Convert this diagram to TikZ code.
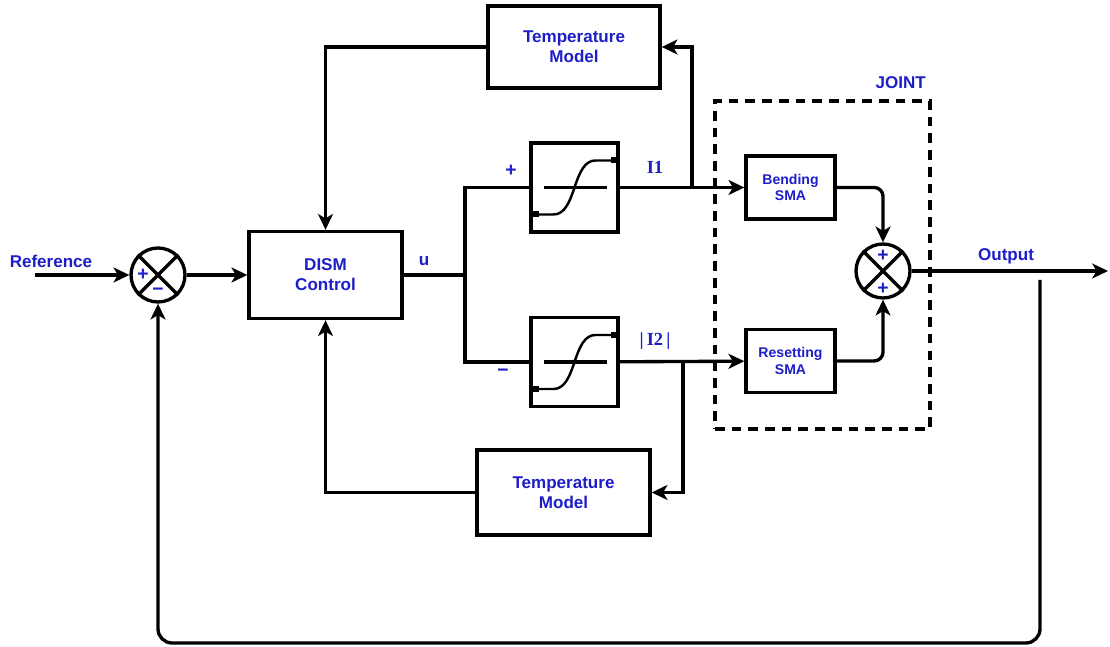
\documentclass[tikz,border=0pt]{standalone}
\usepackage{fontspec}
\setmainfont{Liberation Sans}
\newfontfamily\serifbold{Liberation Serif}
\usetikzlibrary{arrows.meta,positioning,calc}
\definecolor{labelblue}{RGB}{30,30,200}

\begin{document}
\begin{tikzpicture}[
          line width=1.9pt, >={Stealth[length=9pt,width=8.5pt,inset=2.5pt]},
          blk/.style={draw, line width=1.9pt, align=center, text=labelblue, font=\bfseries\fontsize{9.7}{11.5}\selectfont},
          sma/.style={blk, minimum width=1.78cm, minimum height=1.26cm, font=\bfseries\fontsize{8}{9.5}\selectfont},
          sat/.style={draw, line width=1.9pt, minimum width=1.74cm, minimum height=1.78cm},
          sumnode/.style={circle, draw, line width=1.9pt, minimum size=1.08cm, inner sep=0pt},
          lbl/.style={text=labelblue, font=\bfseries\fontsize{9.7}{11}\selectfont, inner sep=1pt},
          ilbl/.style={text=labelblue, font=\serifbold\bfseries\fontsize{10.5}{11}\selectfont, inner sep=1pt},
          sgn/.style={text=labelblue, font=\bfseries\fontsize{11}{11}\selectfont, inner sep=0pt}]
        \useasboundingbox (0,0) rectangle (22.2,12.94);
        % blocks
        \node[sumnode] (sum1) at (3.16,7.44) {};
        \node[blk, minimum width=3.06cm, minimum height=1.74cm] (dism) at (6.51,7.44) {DISM\\Control};
        \node[sat] (sat1) at (11.49,9.19) {};
        \node[sat] (sat2) at (11.49,5.70) {};
        \node[blk, minimum width=3.44cm, minimum height=1.64cm] (temp1) at (11.48,12.0) {Temperature\\Model};
        \node[blk, minimum width=3.46cm, minimum height=1.70cm] (temp2) at (11.27,3.09) {Temperature\\Model};
        \node[sma] (bend) at (15.81,9.19) {Bending\\SMA};
        \node[sma] (reset) at (15.81,5.72) {Resetting\\SMA};
        \node[sumnode] (sum2) at (17.66,7.52) {};
        \node[draw, dash pattern=on 5.5pt off 4pt, minimum width=4.3cm, minimum height=6.56cm] (joint) at (16.45,7.64) {};
        % summing junction crosses and signs
        \foreach \s in {sum1,sum2} {
          \draw (\s.north west) -- (\s.south east);
          \draw (\s.north east) -- (\s.south west);
        }
        \node[sgn] (p1) at ([xshift=-0.3cm]sum1.center) {+};
        \node[sgn] (m1) at ([yshift=-0.34cm]sum1.center) {−};
        \node[sgn] (p2) at ([yshift=0.3cm]sum2.center) {+};
        \node[sgn] (p3) at ([yshift=-0.36cm]sum2.center) {+};
        % saturation curves
        \foreach \s in {sat1,sat2} {
          \draw ($(\s.center)+(-0.62,0)$) -- ($(\s.center)+(0.64,0)$);
          \draw[line width=1.4pt] ($(\s.center)+(-0.8,-0.54)$) -- ($(\s.center)+(-0.42,-0.54)$)
            .. controls ($(\s.center)+(-0.2,-0.54)$) and ($(\s.center)+(-0.1,-0.3)$) .. (\s.center)
            .. controls ($(\s.center)+(0.1,0.3)$) and ($(\s.center)+(0.2,0.54)$) .. ($(\s.center)+(0.42,0.54)$)
            -- ($(\s.center)+(0.8,0.54)$);
          \fill ($(\s.center)+(-0.86,-0.6)$) rectangle ++(0.14,0.12);
          \fill ($(\s.center)+(0.72,0.48)$) rectangle ++(0.14,0.12);
        }
        % coordinates
        \coordinate (refin) at (0.7,7.44);
        \coordinate (split) at (9.3,7.44);
        \coordinate (tap1) at (13.84,9.19);
        \coordinate (tap2) at (13.66,5.70);
        \coordinate (outend) at (22.16,7.52);
        \coordinate (fbstart) at (20.8,7.34);
        \coordinate (fbturn) at (20.8,0.08);
        % connectors
        \draw[->] (refin) -- (sum1);
        \draw[->] (sum1) -- (dism);
        \draw (dism) -- (split);
        \draw (split) |- (sat1);
        \draw (split) |- (sat2);
        \draw[->] (sat1) -- (bend);
        \draw[->] (sat2) -- (reset);
        \draw[->] (tap1) |- (temp1);
        \draw[->] (tap2) |- (temp2);
        \draw[->] (temp1) -| (dism);
        \draw[->] (temp2) -| (dism);
        \draw[->, rounded corners=5pt] (bend) -| (sum2);
        \draw[->, rounded corners=5pt] (reset) -| (sum2);
        \draw[->] (sum2) -- (outend);
        \draw[->, rounded corners=8pt] (fbstart) -- (fbturn) -| (sum1);
        % labels
        \node[lbl] (reflbl) at (1.02,7.72) {Reference};
        \node[lbl] (ulbl) at (8.48,7.72) {u};
        \node[sgn] (plus) at (10.22,9.52) {+};
        \node[sgn] (minus) at (10.06,5.48) {−};
        \node[ilbl] (i1lbl) at (13.1,9.6) {I1};
        \node[ilbl] (i2lbl) at (13.1,6.12) {|\,I2\,|};
        \node[lbl] (outlbl) at (20.12,7.82) {Output};
        \node[lbl, anchor=south east] (jointlbl) at ([xshift=-0.05cm,yshift=0.14cm]joint.north east) {JOINT};
      \end{tikzpicture}
\end{document}
